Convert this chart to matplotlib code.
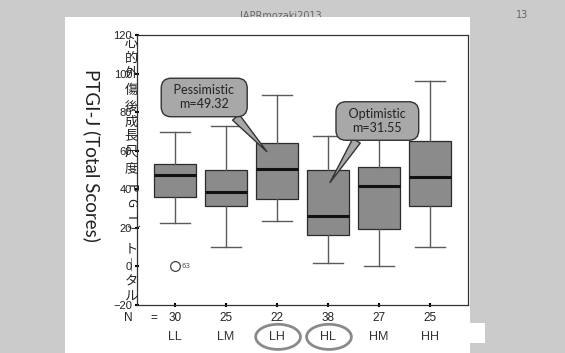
import matplotlib.pyplot as plt
from matplotlib.patches import Rectangle, Ellipse

# datos (PTGI-J por grupo)
grupos = ['LL', 'LM', 'LH', 'HL', 'HM', 'HH']
n_obs = [30, 25, 22, 38, 27, 25]
bigote_inf = [22.3, 10.2, 23.5, 1.9, 0.0, 10.2]
q1 = [35.8, 31.5, 34.8, 16.3, 19.2, 31.5]
mediana = [47.4, 38.7, 50.3, 26.3, 41.9, 46.2]
q3 = [53.1, 50.0, 64.1, 50.0, 51.7, 65.0]
bigote_sup = [69.7, 72.8, 88.9, 67.8, 80.0, 96.3]
atipicos = [[0.0], [], [], [], [], []]
atipicos_id = [['63'], [], [], [], [], []]

y_ticks = [-20, 0, 20, 40, 60, 80, 100, 120]

nota_pes = '  Pessimistic  \nm=49.32'
nota_opt = '  Optimistic  \nm=31.55'

# caracteres de la etiqueta vertical japonesa
jp_chars = ['心', '的', '外', '傷', '後', '成', '長', '尺', '度',
            'P', 'G', 'T', '）', 'ト', '｜', 'タ', 'ル']
jp_y_px = [43, 58, 73, 90, 107, 122, 136, 152, 169,
           188, 203, 217, 231, 250, 266, 282, 297]

W, H = 565, 353
fig = plt.figure(figsize=(W / 100, H / 100), dpi=100)
fig.patch.set_facecolor('#cbcbcb')

# cabecera de la diapositiva (detras del panel blanco)
fig.text(281 / W, 1 - 16 / H, 'IAPRmozaki2013', fontsize=7, color='#666666',
         ha='center', va='center', zorder=0)
fig.text(522 / W, 1 - 15 / H, '13', fontsize=7, color='#666666',
         ha='center', va='center', zorder=0)

# panel blanco
fig.patches.append(Rectangle((65 / W, 0), (470 - 65) / W, 1 - 17 / H,
                             transform=fig.transFigure, fc='white', ec='none', zorder=0.5))
fig.patches.append(Rectangle((469 / W, 1 - 343 / H), 16 / W, 20 / H,
                             transform=fig.transFigure, fc='white', ec='none', zorder=0.5))

ax = fig.add_axes([137 / W, 1 - 305 / H, (468 - 137) / W, 270 / H])
ax.set_zorder(2)

pos = list(range(1, len(grupos) + 1))
stats = []
for i in range(len(grupos)):
    stats.append({'med': mediana[i], 'q1': q1[i], 'q3': q3[i],
                  'whislo': bigote_inf[i], 'whishi': bigote_sup[i],
                  'fliers': atipicos[i]})

ax.bxp(stats, positions=pos, widths=0.82, capwidths=0.6, patch_artist=True,
       boxprops=dict(facecolor='#8b8b8b', edgecolor='#2b2b2b', linewidth=0.9),
       medianprops=dict(color='#111111', linewidth=2.2),
       whiskerprops=dict(color='#5a5a5a', linewidth=1.0),
       capprops=dict(color='#5a5a5a', linewidth=1.0),
       flierprops=dict(marker='o', markerfacecolor='none', markeredgecolor='#444444',
                       markersize=7, markeredgewidth=0.9))

for i in range(len(grupos)):
    for v, lab in zip(atipicos[i], atipicos_id[i]):
        ax.text(pos[i] + 0.12, v, lab, fontsize=5, color='#555555', va='center', ha='left')

narrow = ['Liberation Sans', 'DejaVu Sans']
ax.set_xlim(0.25, 6.75)
ax.set_ylim(-20, 120)
ax.set_yticks(y_ticks)
ax.set_xticks(pos)
ax.set_xticklabels([])
ax.tick_params(axis='y', length=3, width=1.5, direction='inout', pad=2,
               labelsize=8, labelcolor='#222222')
ax.tick_params(axis='x', length=3, width=1.5, direction='inout')
for lab in ax.get_yticklabels():
    lab.set_family(narrow)
for s in ax.spines.values():
    s.set_color('#333333')
    s.set_linewidth(0.9)

# globos
ax.annotate(nota_pes, xy=(2.80, 59.5), xytext=(1.57, 87.6), ha='center', va='center',
            fontsize=9, family='Lato', color='#222222', zorder=5,
            bbox=dict(boxstyle='round,pad=0.5,rounding_size=0.8', fc='#a8a8a8', ec='#333333', lw=1),
            arrowprops=dict(arrowstyle='wedge,tail_width=0.7', fc='#a8a8a8', ec='#333333',
                            lw=1, relpos=(0.8, 0.15), shrinkA=0, shrinkB=0))
ax.annotate(nota_opt, xy=(4.04, 43.5), xytext=(4.97, 75.4), ha='center', va='center',
            fontsize=9, family='Lato', color='#222222', zorder=5,
            bbox=dict(boxstyle='round,pad=0.5,rounding_size=0.8', fc='#a8a8a8', ec='#333333', lw=1),
            arrowprops=dict(arrowstyle='wedge,tail_width=0.7', fc='#a8a8a8', ec='#333333',
                            lw=1, relpos=(0.3, 0.15), shrinkA=0, shrinkB=0))

# fila de N y etiquetas de grupo
tr = ax.get_xaxis_transform()
ax.text(0.08, -0.048, 'N', transform=tr, ha='center', va='center', fontsize=8.5,
        family=narrow, color='#222222', clip_on=False)
ax.text(0.59, -0.048, '=', transform=tr, ha='center', va='center', fontsize=8.5,
        family=narrow, color='#222222', clip_on=False)
for p, n, g in zip(pos, n_obs, grupos):
    ax.text(p, -0.048, str(n), transform=tr, ha='center', va='center', fontsize=8.5,
            family=narrow, color='#222222', clip_on=False)
    ax.text(p, -0.118, g, transform=tr, ha='center', va='center', fontsize=9,
            family=narrow, color='#333333', clip_on=False)
for p in [3, 4]:
    ax.add_patch(Ellipse((p + 0.02, -0.118), 0.88, 0.093, transform=tr, fill=False,
                         ec='#8a8a8a', lw=2, clip_on=False))

# etiquetas del eje y
fig.text(92 / W, 1 - 155 / H, 'PTGI-J (Total Scores)', rotation=-90, fontsize=13.5,
         family='Lato', color='#222222', ha='center', va='center')
for c, ypx in zip(jp_chars, jp_y_px):
    rot = -90 if c in ('）', 'P', 'G', 'T') else 0
    fig.text(131 / W, 1 - ypx / H, c, fontsize=9.5, rotation=rot,
             family=['Noto Sans CJK JP', 'DejaVu Sans'], color='#222222',
             ha='center', va='center', zorder=6)

fig.savefig('out.png', dpi=100, facecolor=fig.get_facecolor())
